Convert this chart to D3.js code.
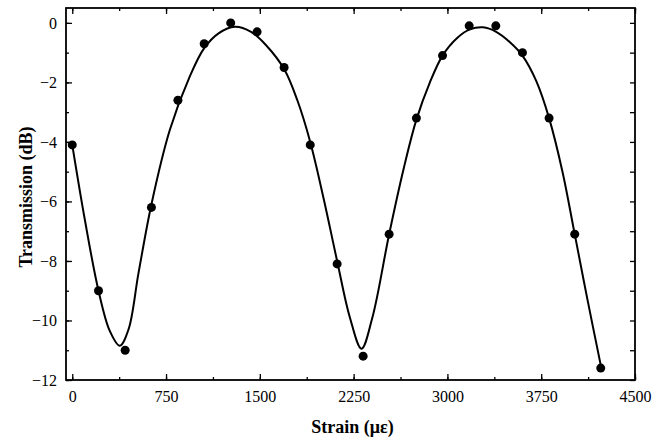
<!DOCTYPE html>
<html>
<head>
<meta charset="utf-8">
<script src="https://cdn.jsdelivr.net/npm/d3@7"></script>
<style>
  body { margin: 0; background: #fff; }
  text { font-family: "Liberation Serif", "DejaVu Serif", serif; }
</style>
</head>
<body>
<div id="chart"></div>
<script>
// measured points
const strain = [0, 210, 423, 633, 845, 1055, 1267, 1478, 1694, 1903, 2118,
                2326, 2534, 2752, 2961, 3174, 3387, 3600, 3813, 4018, 4226];
const transmission = [-4.1, -9.0, -11.0, -6.2, -2.6, -0.7, 0.0, -0.3, -1.5, -4.1, -8.1,
                      -11.2, -7.1, -3.2, -1.1, -0.1, -0.1, -1.0, -3.2, -7.1, -11.6];

// fitted curve
const fitX = [0, 100, 210, 300, 380, 450, 530, 633, 780, 940, 1055, 1170, 1300, 1430, 1550,
              1694, 1800, 1903, 2010, 2118, 2220, 2313, 2400, 2534, 2650, 2752, 2860, 2961,
              3080, 3180, 3285, 3390, 3500, 3600, 3710, 3813, 3920, 4018, 4120, 4226];
const fitY = [-4.1, -6.6, -9.0, -10.35, -10.85, -10.3, -8.4, -6.1, -3.6, -1.8, -0.85, -0.35, -0.13, -0.3, -0.75,
              -1.55, -2.6, -4.0, -5.9, -8.0, -9.9, -10.95, -9.9, -7.1, -4.9, -3.25, -2.0, -1.1,
              -0.5, -0.22, -0.15, -0.3, -0.65, -1.1, -1.95, -3.2, -5.0, -7.1, -9.3, -11.5];

const xTicks = [0, 750, 1500, 2250, 3000, 3750, 4500];
const yTicks = [0, -2, -4, -6, -8, -10, -12];

const W = 663, H = 441;
const margin = {top: 8, right: 28, bottom: 61, left: 66};
const width = W - margin.left - margin.right,
      height = H - margin.top - margin.bottom;

const svg = d3.select("#chart").append("svg")
    .attr("width", W)
    .attr("height", H);
const g = svg.append("g")
    .attr("transform", `translate(${margin.left},${margin.top})`);

const x = d3.scaleLinear().domain([-50, 4500]).range([0, width]);
const y = d3.scaleLinear().domain([-12, 0.5]).range([height, 0]);

const xMinor = d3.range(0, 4501, 375);
const yMinor = d3.range(-12, 1, 1);

function styleAxis(sel) {
  sel.select(".domain").remove();
  sel.selectAll("line").attr("stroke", "#000").attr("stroke-width", 1.3);
  sel.selectAll("text").attr("font-size", 16).attr("fill", "#000");
}

// minor ticks (inward)
g.append("g").attr("transform", `translate(0,${height})`)
  .call(d3.axisBottom(x).tickValues(xMinor).tickSize(-3).tickFormat(""))
  .call(styleAxis);
g.append("g")
  .call(d3.axisTop(x).tickValues(xMinor).tickSize(-3).tickFormat(""))
  .call(styleAxis);
g.append("g")
  .call(d3.axisLeft(y).tickValues(yMinor).tickSize(-3).tickFormat(""))
  .call(styleAxis);
g.append("g").attr("transform", `translate(${width},0)`)
  .call(d3.axisRight(y).tickValues(yMinor).tickSize(-5).tickFormat(""))
  .call(styleAxis);

// major ticks
g.append("g").attr("transform", `translate(0,${height})`)
  .call(d3.axisBottom(x).tickValues(xTicks).tickSize(-6).tickPadding(11).tickFormat(d3.format("d")))
  .call(styleAxis);
g.append("g")
  .call(d3.axisTop(x).tickValues(xTicks).tickSize(-6).tickFormat(""))
  .call(styleAxis);
g.append("g")
  .call(d3.axisLeft(y).tickValues(yTicks).tickSize(-6).tickPadding(9).tickFormat(d3.format("d")))
  .call(styleAxis);

// frame
g.append("rect")
  .attr("width", width).attr("height", height)
  .attr("fill", "none").attr("stroke", "#000").attr("stroke-width", 1.8);

// fit line
const fit = fitX.map((d, i) => [d, fitY[i]]);
g.append("path")
  .datum(fit)
  .attr("fill", "none")
  .attr("stroke", "#000")
  .attr("stroke-width", 2)
  .attr("d", d3.line()
    .x(d => x(d[0]))
    .y(d => y(d[1]))
    .curve(d3.curveCatmullRom.alpha(0.5)));

// points
g.selectAll("circle.pt")
  .data(strain.map((d, i) => [d, transmission[i]]))
  .join("circle")
  .attr("class", "pt")
  .attr("cx", d => x(d[0]))
  .attr("cy", d => y(d[1]))
  .attr("r", 4.5)
  .attr("fill", "#000");

// axis labels
g.append("text")
  .attr("x", width / 2 + 2)
  .attr("y", height + 53)
  .attr("text-anchor", "middle")
  .attr("font-size", 18)
  .attr("font-weight", "bold")
  .text("Strain (\u03bc\u03b5)");

g.append("text")
  .attr("transform", "rotate(-90)")
  .attr("x", -height / 2 - 3)
  .attr("y", -34)
  .attr("text-anchor", "middle")
  .attr("font-size", 18)
  .attr("font-weight", "bold")
  .text("Transmission (dB)");
</script>
</body>
</html>
